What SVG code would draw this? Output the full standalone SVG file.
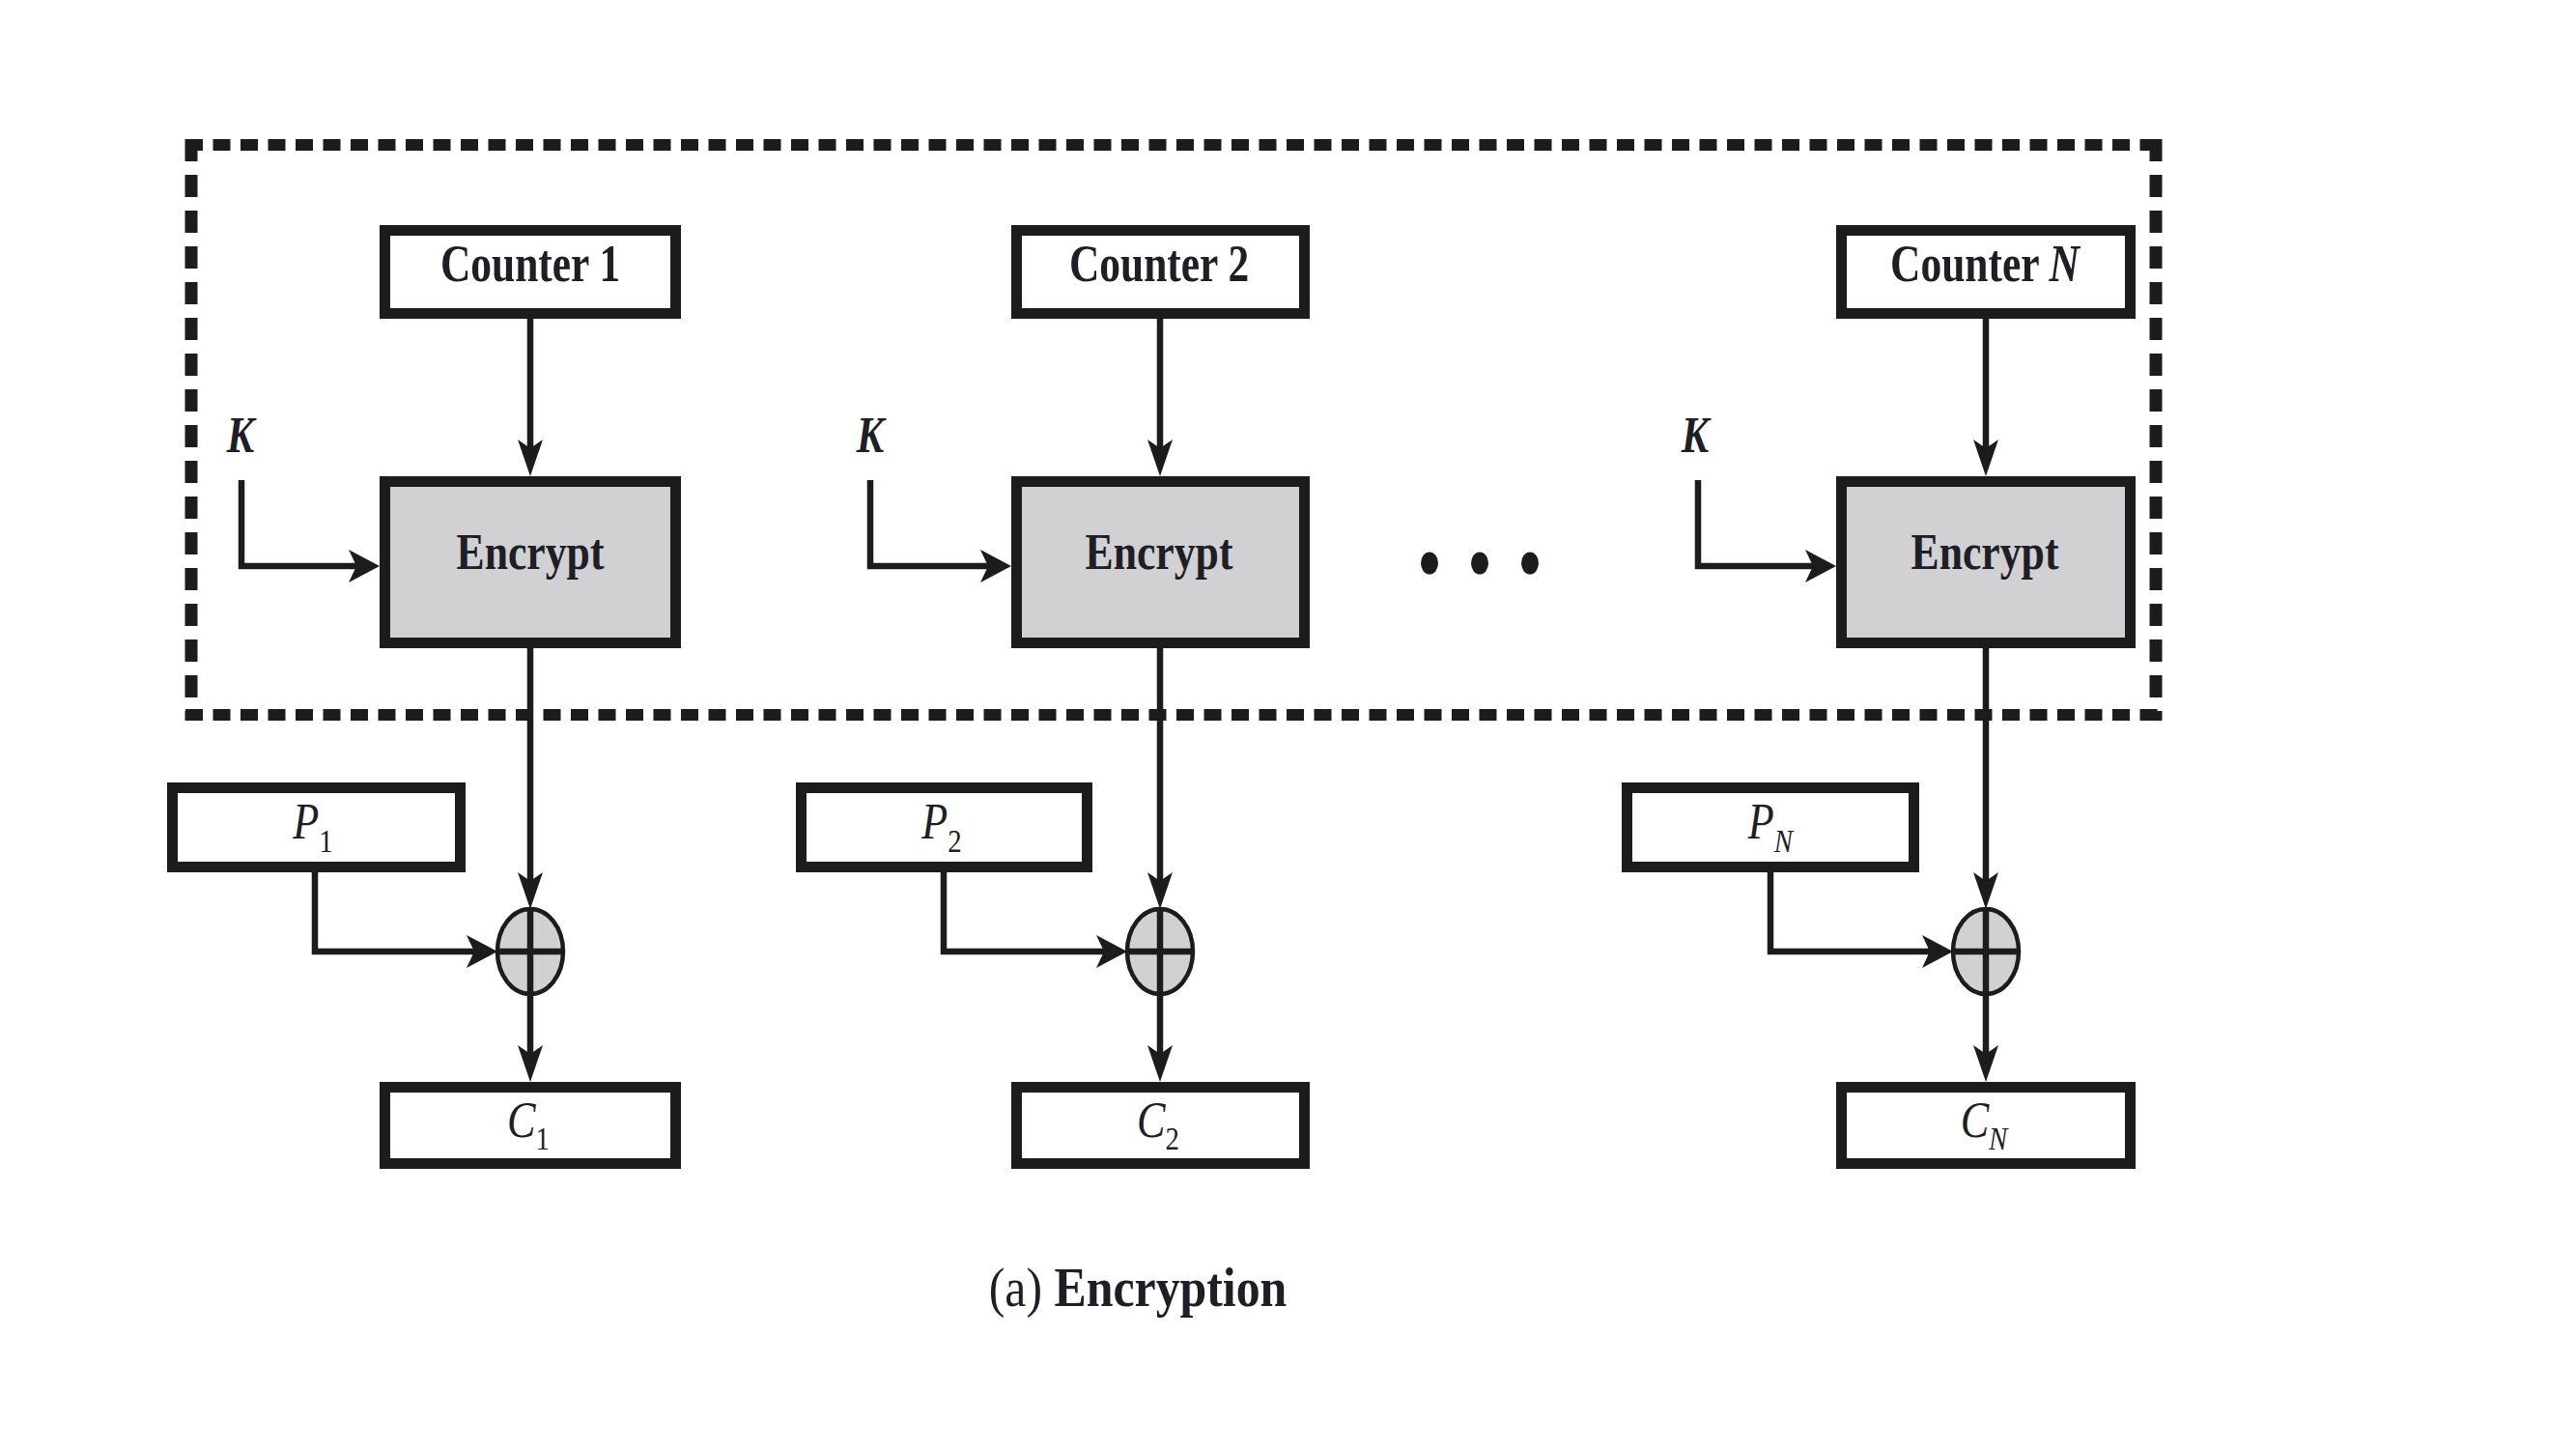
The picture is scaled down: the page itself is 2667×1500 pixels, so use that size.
<svg xmlns="http://www.w3.org/2000/svg" width="2667" height="1500" viewBox="0 0 2667 1500">
  <style>
    .box { fill: #ffffff; stroke: #1c1c1c; stroke-width: 11; }
    .enc { fill: #d1d1d4; stroke: #1c1c1c; stroke-width: 11; }
    .xor { fill: #d1d1d1; stroke: #1c1c1c; stroke-width: 4.5; }
    .wire { fill: none; stroke: #1c1c1c; stroke-width: 6.5; }
    .dashH { fill: none; stroke: #1c1c1c; stroke-width: 12; stroke-dasharray: 18 10.5; }
    .dashV { fill: none; stroke: #1c1c1c; stroke-width: 13; stroke-dasharray: 23 14; }
    .lbl { font-family: "Liberation Serif", "Times New Roman", serif; fill: #1e1e26; text-anchor: middle; }
    .b { font-weight: bold; }
    .i { font-style: italic; }
    .sym { font-size: 52px; }
    .sub { font-size: 34px; }
  </style>
  <defs>
    <marker id="headV" viewBox="0 -16 40 32" markerWidth="40" markerHeight="32" refX="18" refY="0" orient="auto" markerUnits="userSpaceOnUse">
      <path d="M0,-13 L38,0 L0,13 L9,0 Z" fill="#1c1c1c"/>
    </marker>
    <marker id="headH" viewBox="0 -18 36 36" markerWidth="36" markerHeight="36" refX="14" refY="0" orient="auto" markerUnits="userSpaceOnUse">
      <path d="M0,-17 L32,0 L0,17 L8,0 Z" fill="#1c1c1c"/>
    </marker>
  </defs>

  <rect width="2667" height="1500" fill="#ffffff"/>

  <!-- dashed boundary around the keystream generation stage -->
  <g id="keystream-boundary">
    <line class="dashH" x1="192" y1="150" x2="2238" y2="150"/>
    <line class="dashH" x1="192" y1="740" x2="2238" y2="740"/>
    <line class="dashV" x1="198" y1="144" x2="198" y2="746"/>
    <line class="dashV" x1="2232" y1="144" x2="2232" y2="746"/>
  </g>

  <!-- connectors -->
  <g id="connectors">
    <!-- counter to encrypt -->
    <line class="wire" x1="549" y1="330" x2="549" y2="473" marker-end="url(#headV)"/>
    <line class="wire" x1="1201" y1="330" x2="1201" y2="473" marker-end="url(#headV)"/>
    <line class="wire" x1="2056" y1="330" x2="2056" y2="473" marker-end="url(#headV)"/>
    <!-- key into encrypt -->
    <path class="wire" d="M250,497 V586 H375" marker-end="url(#headH)"/>
    <path class="wire" d="M901,497 V586 H1029" marker-end="url(#headH)"/>
    <path class="wire" d="M1758,497 V586 H1883" marker-end="url(#headH)"/>
    <!-- encrypt output to XOR -->
    <line class="wire" x1="549" y1="671" x2="549" y2="921" marker-end="url(#headV)"/>
    <line class="wire" x1="1201" y1="671" x2="1201" y2="921" marker-end="url(#headV)"/>
    <line class="wire" x1="2056" y1="671" x2="2056" y2="921" marker-end="url(#headV)"/>
    <!-- plaintext to XOR -->
    <path class="wire" d="M326,903 V985 H497" marker-end="url(#headH)"/>
    <path class="wire" d="M977,903 V985 H1149" marker-end="url(#headH)"/>
    <path class="wire" d="M1833,903 V985 H2004" marker-end="url(#headH)"/>
    <!-- XOR to ciphertext -->
    <line class="wire" x1="549" y1="1029" x2="549" y2="1100" marker-end="url(#headV)"/>
    <line class="wire" x1="1201" y1="1029" x2="1201" y2="1100" marker-end="url(#headV)"/>
    <line class="wire" x1="2056" y1="1029" x2="2056" y2="1100" marker-end="url(#headV)"/>
  </g>

  <!-- column 1 -->
  <g id="counter-1">
    <rect class="box" x="398.5" y="238.5" width="301" height="86"/>
    <text class="lbl b" font-size="55" transform="translate(549,291) scale(0.79,1)">Counter 1</text>
  </g>
  <g id="encrypt-1">
    <rect class="enc" x="398.5" y="498.5" width="301" height="167"/>
    <text class="lbl b" font-size="52" transform="translate(549,589) scale(0.84,1)">Encrypt</text>
  </g>
  <g id="key-1">
    <text class="lbl b i" font-size="52" transform="translate(249,468) scale(0.82,1)">K</text>
  </g>
  <g id="plain-1">
    <rect class="box" x="178.5" y="815.5" width="298" height="82"/>
    <text class="lbl sym" transform="translate(324,868) scale(0.85,1)"><tspan class="i">P</tspan><tspan class="sub" dy="14">1</tspan></text>
  </g>
  <g id="xor-1">
    <ellipse class="xor" cx="549" cy="985" rx="34" ry="44"/>
    <line class="wire" x1="515" y1="985" x2="583" y2="985"/>
    <line class="wire" x1="549" y1="941" x2="549" y2="1029"/>
  </g>
  <g id="cipher-1">
    <rect class="box" x="398.5" y="1125.5" width="301" height="79"/>
    <text class="lbl sym" transform="translate(547,1177) scale(0.85,1)"><tspan class="i">C</tspan><tspan class="sub" dy="13">1</tspan></text>
  </g>

  <!-- column 2 -->
  <g id="counter-2">
    <rect class="box" x="1052.5" y="238.5" width="298" height="86"/>
    <text class="lbl b" font-size="55" transform="translate(1200,291) scale(0.79,1)">Counter 2</text>
  </g>
  <g id="encrypt-2">
    <rect class="enc" x="1052.5" y="498.5" width="298" height="167"/>
    <text class="lbl b" font-size="52" transform="translate(1200,589) scale(0.84,1)">Encrypt</text>
  </g>
  <g id="key-2">
    <text class="lbl b i" font-size="52" transform="translate(901,468) scale(0.82,1)">K</text>
  </g>
  <g id="plain-2">
    <rect class="box" x="829.5" y="815.5" width="296" height="82"/>
    <text class="lbl sym" transform="translate(975,868) scale(0.85,1)"><tspan class="i">P</tspan><tspan class="sub" dy="14">2</tspan></text>
  </g>
  <g id="xor-2">
    <ellipse class="xor" cx="1201" cy="985" rx="34" ry="44"/>
    <line class="wire" x1="1167" y1="985" x2="1235" y2="985"/>
    <line class="wire" x1="1201" y1="941" x2="1201" y2="1029"/>
  </g>
  <g id="cipher-2">
    <rect class="box" x="1052.5" y="1125.5" width="298" height="79"/>
    <text class="lbl sym" transform="translate(1199,1177) scale(0.85,1)"><tspan class="i">C</tspan><tspan class="sub" dy="13">2</tspan></text>
  </g>

  <!-- ellipsis between columns -->
  <g id="ellipsis" fill="#1c1c1c">
    <ellipse cx="1480" cy="583" rx="9" ry="11.5"/>
    <ellipse cx="1532" cy="583" rx="9" ry="11.5"/>
    <ellipse cx="1584" cy="583" rx="9" ry="11.5"/>
  </g>

  <!-- column N -->
  <g id="counter-n">
    <rect class="box" x="1906.5" y="238.5" width="299" height="86"/>
    <text class="lbl b" font-size="55" transform="translate(2055,291) scale(0.79,1)">Counter <tspan class="i">N</tspan></text>
  </g>
  <g id="encrypt-n">
    <rect class="enc" x="1906.5" y="498.5" width="299" height="167"/>
    <text class="lbl b" font-size="52" transform="translate(2055,589) scale(0.84,1)">Encrypt</text>
  </g>
  <g id="key-n">
    <text class="lbl b i" font-size="52" transform="translate(1755,468) scale(0.82,1)">K</text>
  </g>
  <g id="plain-n">
    <rect class="box" x="1684.5" y="815.5" width="297" height="82"/>
    <text class="lbl sym" transform="translate(1833,868) scale(0.85,1)"><tspan class="i">P</tspan><tspan class="sub i" dy="14">N</tspan></text>
  </g>
  <g id="xor-n">
    <ellipse class="xor" cx="2056" cy="985" rx="34" ry="44"/>
    <line class="wire" x1="2022" y1="985" x2="2090" y2="985"/>
    <line class="wire" x1="2056" y1="941" x2="2056" y2="1029"/>
  </g>
  <g id="cipher-n">
    <rect class="box" x="1906.5" y="1125.5" width="299" height="79"/>
    <text class="lbl sym" transform="translate(2054,1177) scale(0.85,1)"><tspan class="i">C</tspan><tspan class="sub i" dy="13">N</tspan></text>
  </g>

  <!-- caption -->
  <g id="caption">
    <text class="lbl" font-size="56" transform="translate(1178,1352) scale(0.89,1)">(a) <tspan class="b">Encryption</tspan></text>
  </g>
</svg>
